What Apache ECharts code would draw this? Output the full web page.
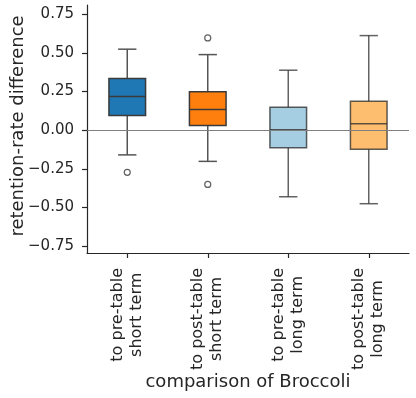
<!DOCTYPE html>
<html><head><meta charset="utf-8">
<script src="https://cdn.jsdelivr.net/npm/echarts@6/dist/echarts.min.js"></script>
<style>html,body{margin:0;padding:0;background:#fff}#c{width:416px;height:398px}</style>
</head><body><div id="c"></div>
<script>
const categories = ["to pre-table\nshort term", "to post-table\nshort term", "to pre-table\nlong term", "to post-table\nlong term"];
const q1 = [0.095, 0.030, -0.114, -0.123];
const median = [0.218, 0.134, 0.002, 0.041];
const q3 = [0.334, 0.248, 0.149, 0.187];
const whiskerLow = [-0.160, -0.202, -0.431, -0.476];
const whiskerHigh = [0.524, 0.489, 0.388, 0.612];
const outliers = [[0, -0.273], [1, 0.597], [1, -0.351]];
const boxColors = ["#1f77b4", "#ff7f0e", "#a6cee3", "#fdbf6f"];
const yTicks = [-0.75, -0.5, -0.25, 0, 0.25, 0.5, 0.75];

const boxData = categories.map((c, i) => [i, q1[i], median[i], q3[i], whiskerLow[i], whiskerHigh[i]]);
const FONT = "DejaVu Sans";
const chart = echarts.init(document.getElementById('c'), null, {renderer: 'canvas'});
chart.setOption({
  animation: false,
  backgroundColor: '#fff',
  grid: {left: 87, right: 7, top: 5, bottom: 145, containLabel: false, outerBoundsMode: 'none'},
  xAxis: {
    type: 'category', data: categories,
    name: 'comparison of Broccoli', nameLocation: 'middle', nameGap: 120, nameMoveOverlap: false,
    nameTextStyle: {fontFamily: FONT, fontSize: 18, color: '#262626'},
    axisLine: {show: true, onZero: false, lineStyle: {color: '#262626', width: 1.2}},
    axisTick: {show: true, alignWithLabel: true, length: 5, lineStyle: {color: '#262626', width: 1.2}},
    axisLabel: {
      rotate: 90, margin: 15, interval: 0,
      fontFamily: FONT, fontSize: 16, color: '#262626', lineHeight: 19,
      formatter: v => v.split('\n').map(s => '{a|' + s + '}').join('\n'),
      rich: {a: {align: 'center', fontFamily: FONT, fontSize: 16, color: '#262626', lineHeight: 19}}
    },
    splitLine: {show: false}
  },
  yAxis: {
    type: 'value', min: -0.795, max: 0.81,
    name: 'retention-rate difference', nameLocation: 'middle', nameGap: 60, nameMoveOverlap: false,
    nameTextStyle: {fontFamily: FONT, fontSize: 18, color: '#262626', padding: [0, 0, 0, 6]},
    axisLine: {show: true, lineStyle: {color: '#262626', width: 1.2}},
    axisTick: {show: true, length: 5, customValues: yTicks, lineStyle: {color: '#262626', width: 1.2}},
    axisLabel: {
      customValues: yTicks, margin: 13,
      fontFamily: FONT, fontSize: 15, color: '#262626',
      formatter: v => Number(v).toFixed(2).replace('-', '\u2212')
    },
    splitLine: {show: false}
  },
  series: [
    {
      type: 'scatter', data: [], z: 1, silent: true,
      markLine: {
        silent: true, symbol: 'none', label: {show: false},
        lineStyle: {color: '#7f7f7f', width: 1.2, type: 'solid'},
        data: [{yAxis: 0}]
      }
    },
    {
      type: 'custom', z: 3, data: boxData,
      renderItem: function (params, api) {
        const x = api.value(0);
        const vq1 = api.value(1), vmed = api.value(2), vq3 = api.value(3), vlo = api.value(4), vhi = api.value(5);
        const band = api.size([1, 0])[0];
        const bw = band * 0.455, cw = bw * 0.5;
        const pq1 = api.coord([x, vq1]), pq3 = api.coord([x, vq3]), pm = api.coord([x, vmed]);
        const plo = api.coord([x, vlo]), phi = api.coord([x, vhi]);
        const cx = pq1[0];
        const light = params.dataIndex >= 2;
        const edge = light ? 'rgba(40,40,40,0.75)' : '#3a3a3a';
        const wcol = light ? 'rgba(60,60,60,0.8)' : '#555555';
        const ls = {stroke: wcol, lineWidth: 1.5};
        return {
          type: 'group',
          children: [
            {type: 'line', shape: {x1: cx, y1: pq3[1], x2: cx, y2: phi[1]}, style: ls},
            {type: 'line', shape: {x1: cx, y1: pq1[1], x2: cx, y2: plo[1]}, style: ls},
            {type: 'line', shape: {x1: cx - cw / 2, y1: phi[1], x2: cx + cw / 2, y2: phi[1]}, style: ls},
            {type: 'line', shape: {x1: cx - cw / 2, y1: plo[1], x2: cx + cw / 2, y2: plo[1]}, style: ls},
            {type: 'rect', shape: {x: cx - bw / 2, y: pq3[1], width: bw, height: pq1[1] - pq3[1]},
             style: {fill: boxColors[params.dataIndex], stroke: edge, lineWidth: 1.5}},
            {type: 'line', shape: {x1: cx - bw / 2, y1: pm[1], x2: cx + bw / 2, y2: pm[1]},
             style: {stroke: edge, lineWidth: 1.5}}
          ]
        };
      }
    },
    {
      type: 'scatter', z: 4, data: outliers, symbol: 'circle', symbolSize: 6,
      itemStyle: {color: '#ffffff', borderColor: '#3a3a3a', borderWidth: 1.2}
    }
  ]
});
</script></body></html>
